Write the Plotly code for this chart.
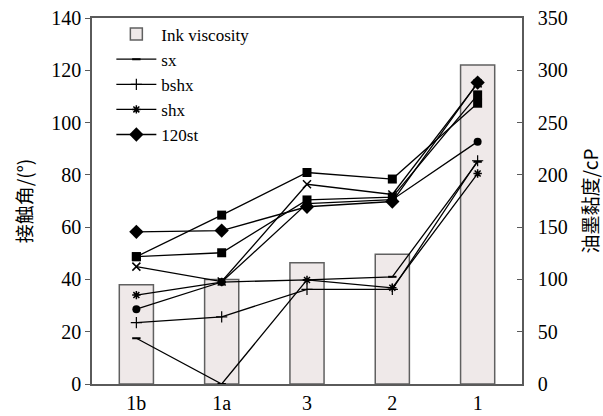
import plotly.graph_objects as go

# Samples along the x axis
samples = ["1b", "1a", "3", "2", "1"]

# Ink viscosity (cP), right axis
viscosity = [95, 100, 116, 124, 305]

# Contact angle (deg), left axis
sx = [17.5, 0, 39.8, 41.0, 85.0]
bshx = [23.5, 25.7, 36.2, 36.2, 85.4]
shx = [34.0, 39.0, 39.8, 36.8, 80.5]
st120 = [58.2, 58.7, 67.8, 69.8, 115.3]
sq_a = [48.7, 64.6, 80.9, 78.4, 107.4]
sq_b = [48.7, 50.2, 70.4, 71.5, 110.6]
circ = [28.6, 39.0, 69.0, 70.5, 92.7]
xmark = [44.9, 39.2, 76.4, 72.5, 115.0]

left_ticks = [0, 20, 40, 60, 80, 100, 120, 140]
right_ticks = [0, 50, 100, 150, 200, 250, 300, 350]

SERIF = "Liberation Serif"
CJK = "Noto Sans CJK SC"
AXIS = "#5a5a5a"

fig = go.Figure()

# bars live on the primary (right-hand) axis so the lines are drawn over them
fig.add_trace(go.Bar(
    x=samples, y=viscosity, name="Ink viscosity", yaxis="y", width=0.4,
    marker=dict(color="#efe9e9", line=dict(color="#606060", width=1.5)),
))


def line_trace(vals, name, symbol, size, show=True, lw=1.2):
    return go.Scatter(
        x=samples, y=vals, name=name, mode="lines+markers", yaxis="y2",
        showlegend=show,
        line=dict(color="black", width=1.3),
        marker=dict(symbol=symbol, size=size, color="black",
                    line=dict(color="black", width=lw)),
    )


fig.add_trace(line_trace(sx, "sx", "line-ew", 6, lw=2))
fig.add_trace(line_trace(bshx, "bshx", "cross-thin", 8, lw=1.2))
fig.add_trace(line_trace(shx, "shx", "asterisk", 7, lw=1.5))
fig.add_trace(line_trace(st120, "120st", "diamond", 11, lw=0))
fig.add_trace(line_trace(sq_a, "sq_a", "square", 9, show=False, lw=0))
fig.add_trace(line_trace(sq_b, "sq_b", "square", 9, show=False, lw=0))
fig.add_trace(line_trace(circ, "circ", "circle", 8, show=False, lw=0))
fig.add_trace(line_trace(xmark, "xmark", "x-thin", 8, show=False, lw=1.5))

fig.update_layout(
    width=603, height=416,
    margin=dict(l=92, r=81, t=18, b=32, autoexpand=False),
    paper_bgcolor="white", plot_bgcolor="white",
    font=dict(family=SERIF, size=20, color="black"),
    showlegend=True,
    legend=dict(
        x=0.045, y=1.004, xanchor="left", yanchor="top",
        bgcolor="rgba(0,0,0,0)", font=dict(family=SERIF, size=17),
        tracegroupgap=0, itemwidth=40,
    ),
    xaxis=dict(
        type="category", categoryorder="array", categoryarray=samples,
        range=[-0.52, 4.52], automargin=False,
        showline=True, linecolor=AXIS, linewidth=1.5, mirror=True,
        ticks="", showgrid=False, zeroline=False,
        tickfont=dict(family=SERIF, size=20),
    ),
    yaxis=dict(
        range=[0, 350], tickvals=right_ticks, side="right", automargin=False,
        showline=True, linecolor=AXIS, linewidth=1.5,
        ticks="inside", ticklen=5, tickcolor=AXIS, tickwidth=1.2,
        ticklabelstandoff=10,
        showgrid=False, zeroline=False,
        tickfont=dict(family=SERIF, size=20),
        title=dict(text="油墨黏度/cP", font=dict(family=CJK, size=19), standoff=26),
    ),
    yaxis2=dict(
        range=[0, 140], tickvals=left_ticks, overlaying="y", side="left",
        automargin=False,
        showline=True, linecolor=AXIS, linewidth=1.5,
        ticks="outside", ticklen=5, tickcolor=AXIS, tickwidth=1.2,
        showgrid=False, zeroline=False,
        tickfont=dict(family=SERIF, size=20),
        title=dict(text="接触角/(°)", font=dict(family=CJK, size=19), standoff=14),
    ),
)

fig.write_html("out.html")
